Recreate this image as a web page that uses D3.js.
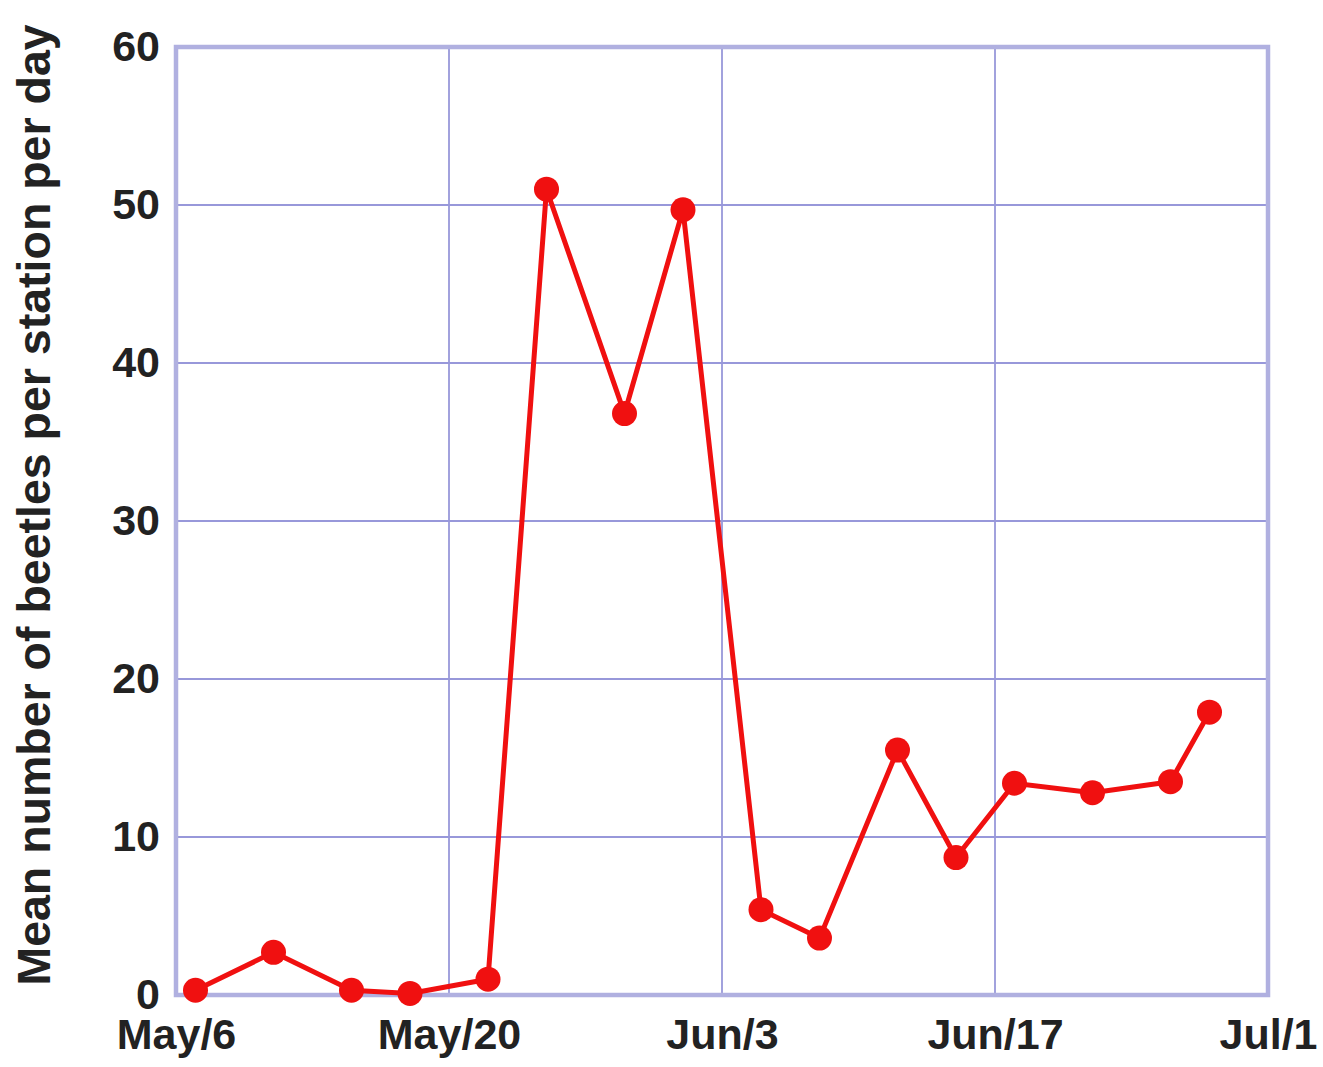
<!DOCTYPE html>
<html>
<head>
<meta charset="utf-8">
<script src="https://cdn.jsdelivr.net/npm/d3@7"></script>
<style>
  body { margin: 0; background: #fff; }
  text { font-family: "Liberation Sans", Arial, sans-serif; font-weight: bold; fill: #222; }
</style>
</head>
<body>
<div id="chart"></div>
<script>
// data
var dates = ["2000-05-07", "2000-05-11", "2000-05-15", "2000-05-18", "2000-05-22",
  "2000-05-25", "2000-05-29", "2000-06-01", "2000-06-05", "2000-06-08",
  "2000-06-12", "2000-06-15", "2000-06-18", "2000-06-22", "2000-06-26", "2000-06-28"];
var beetles = [0.3, 2.7, 0.3, 0.1, 1.0, 51.0, 36.8, 49.7, 5.4, 3.6, 15.5, 8.7, 13.4, 12.8, 13.5, 17.9];
var xTicks = ["2000-05-06", "2000-05-20", "2000-06-03", "2000-06-17", "2000-07-01"];
var xTickLabels = ["May/6", "May/20", "Jun/3", "Jun/17", "Jul/1"];
var yTicks = [0, 10, 20, 30, 40, 50, 60];

var svgWidth = 1323;
var svgHeight = 1067;
var margin = { top: 47, right: 55, bottom: 72, left: 176 };
var width = svgWidth - margin.left - margin.right;
var height = svgHeight - margin.top - margin.bottom;

var parse = d3.timeParse("%Y-%m-%d");
var data = dates.map((d, i) => ({ date: parse(d), value: beetles[i] }));
var tickDates = xTicks.map(parse);

var svg = d3.select("#chart").append("svg")
  .attr("width", svgWidth)
  .attr("height", svgHeight);
var chart = svg.append("g")
  .attr("transform", `translate(${margin.left}, ${margin.top})`);

var xScale = d3.scaleTime()
  .domain([tickDates[0], tickDates[tickDates.length - 1]])
  .range([0, width]);
var yScale = d3.scaleLinear()
  .domain([0, 60])
  .range([height, 0]);

// grid
chart.append("g")
  .selectAll("line")
  .data(tickDates)
  .enter().append("line")
  .attr("x1", d => xScale(d)).attr("x2", d => xScale(d))
  .attr("y1", 0).attr("y2", height)
  .attr("stroke", "#9898da").attr("stroke-width", 1.8);
chart.append("g")
  .selectAll("line")
  .data(yTicks)
  .enter().append("line")
  .attr("x1", 0).attr("x2", width)
  .attr("y1", d => yScale(d)).attr("y2", d => yScale(d))
  .attr("stroke", "#9898da").attr("stroke-width", 1.8);

// frame
chart.append("rect")
  .attr("width", width).attr("height", height)
  .attr("fill", "none")
  .attr("stroke", "#b0b0e0").attr("stroke-width", 4.5);

// axes (labels only)
var bottomAxis = d3.axisBottom(xScale)
  .tickValues(tickDates)
  .tickFormat((d, i) => xTickLabels[i])
  .tickSize(0).tickPadding(23);
var leftAxis = d3.axisLeft(yScale)
  .tickValues(yTicks)
  .tickSize(0).tickPadding(16);

var gx = chart.append("g")
  .attr("transform", `translate(0,${height})`)
  .call(bottomAxis);
var gy = chart.append("g").call(leftAxis);
[gx, gy].forEach(g => {
  g.select(".domain").remove();
  g.selectAll("text").attr("font-size", "43px").attr("fill", "#222")
    .attr("font-family", "'Liberation Sans', Arial, sans-serif").attr("font-weight", "bold");
});

// line + points
var line = d3.line()
  .x(d => xScale(d.date))
  .y(d => yScale(d.value));
chart.append("path")
  .datum(data)
  .attr("d", line)
  .attr("fill", "none")
  .attr("stroke", "#f01010")
  .attr("stroke-width", 5)
  .attr("stroke-linejoin", "round");
chart.selectAll("circle")
  .data(data)
  .enter().append("circle")
  .attr("cx", d => xScale(d.date))
  .attr("cy", d => yScale(d.value))
  .attr("r", 12.5)
  .attr("fill", "#f01010");

// y label
chart.append("text")
  .attr("transform", "rotate(-90)")
  .attr("x", 0 - (505 - margin.top))
  .attr("y", 50 - margin.left)
  .attr("text-anchor", "middle")
  .attr("font-size", "46.5px")
  .text("Mean number of beetles per station per day");
</script>
</body>
</html>
